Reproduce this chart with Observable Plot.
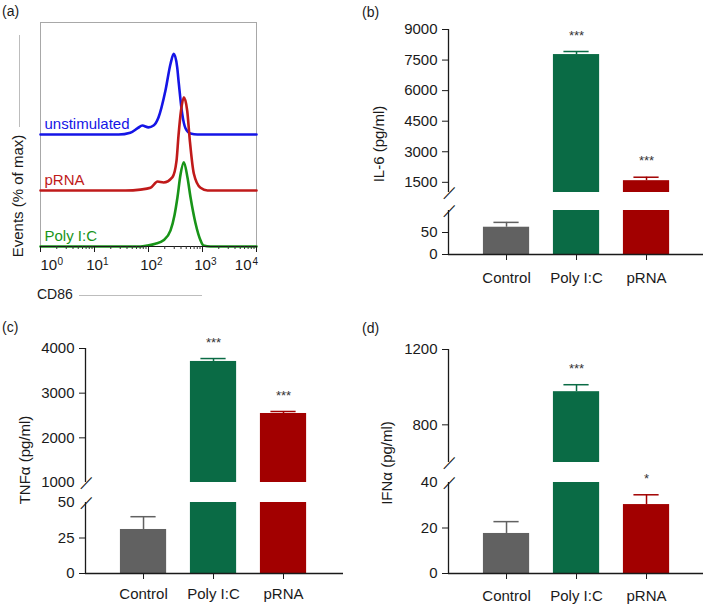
<!DOCTYPE html>
<html>
<head>
<meta charset="utf-8">
<script src="https://cdn.jsdelivr.net/npm/d3@7"></script>
<script src="https://cdn.jsdelivr.net/npm/@observablehq/plot@0.6"></script>
<style>
  body { margin: 0; background: #fff; font-family: "Liberation Sans", Arial, Helvetica, sans-serif; }
  #fig { position: relative; width: 709px; height: 604px; overflow: hidden; background: #fff; }
  #fig svg { overflow: visible; }
  .lab { position: absolute; font-size: 14px; line-height: 16px; color: #1a1a1a; white-space: nowrap; }
  .ylab { position: absolute; font-size: 15px; line-height: 18px; color: #1a1a1a; white-space: nowrap;
          transform: translate(-50%, -50%) rotate(-90deg); }
</style>
</head>
<body>
<div id="fig">
  <div class="lab" style="left:2px;top:3px">(a)</div>
  <div class="lab" style="left:362px;top:4px">(b)</div>
  <div class="lab" style="left:2px;top:319px">(c)</div>
  <div class="lab" style="left:362px;top:320px">(d)</div>
  <div class="lab" style="left:37px;top:286px">CD86</div>
  <div style="position:absolute;left:79px;top:295px;width:123px;border-top:1px solid #bdbdbd"></div>
  <div style="position:absolute;left:19px;top:35px;height:92px;border-left:1px solid #bdbdbd"></div>
  <div class="ylab" style="left:18px;top:196px">Events (% of max)</div>
  <div class="ylab" style="left:379px;top:144px">IL-6 (pg/ml)</div>
  <div class="ylab" style="left:25px;top:460px">TNFα (pg/ml)</div>
  <div class="ylab" style="left:387px;top:463px">IFNα (pg/ml)</div>
</div>
<script>
// ---------- data ----------
// Panel (a): flow cytometry histograms (CD86 vs events, % of max)
const samples = ["unstimulated", "pRNA", "Poly I:C"];
const sampleColors = ["#1515e6", "#c01a1a", "#189418"];
const histOffset = [125, 62.5, 0];

const unstimCD86   = [1, 28, 46, 63, 77, 100, 124, 153, 206, 256, 294, 340, 364, 421, 484, 600, 807, 10000];
const unstimEvents = [0, 0, 2, 7, 10, 8, 10, 19, 49, 79, 90, 75, 57, 23, 7, 1, 0, 0];

const prnaCD86   = [1, 37.5, 71, 109, 147, 190, 278, 330, 359, 400, 451, 521, 582, 690, 918, 1238, 10000];
const prnaEvents = [0, 0, 1, 3, 10, 9, 15, 33, 61, 89, 104, 89, 56, 19, 3, 0, 0];

const polyCD86   = [1, 71, 95, 134, 190, 256, 303, 344, 391, 451, 527, 600, 742, 918, 1044, 1406, 10000];
const polyEvents = [0, 0, 1, 3, 7, 18, 35, 55, 80, 94, 77, 55, 26, 7, 1, 0, 0];

const decades = [1, 10, 100, 1000, 10000];
const decadeExp = ["0", "1", "2", "3", "4"];

// Panels (b)-(d): cytokines
const categories = ["Control", "Poly I:C", "pRNA"];
const barColors = ["#616161", "#0a6b45", "#a20000"];

const il6Mean = [62, 7770, 1580];
const il6Err = [73, 7920, 1750];
const il6Stars = ["", "***", "***"];
const il6UpperTicks = [1500, 3000, 4500, 6000, 7500, 9000];
const il6LowerTicks = [0, 50];

const tnfMean = [31, 3710, 2545];
const tnfErr = [40, 3775, 2590];
const tnfStars = ["", "***", "***"];
const tnfUpperTicks = [2000, 3000, 4000];
const tnfUpperBreakLabels = [1000];
const tnfLowerTicks = [0, 25];
const tnfLowerBreakLabels = [50];

const ifnMean = [17.6, 976, 30.3];
const ifnErr = [22.8, 1013, 34.6];
const ifnStars = ["", "***", "*"];
const ifnUpperTicks = [800, 1200];
const ifnLowerTicks = [0, 20];
const ifnLowerBreakLabels = [40];

// ---------- drawing ----------
const FONT = '"Liberation Sans", Arial, Helvetica, sans-serif';
const INK = "#1a1a1a";
const fig = document.getElementById("fig");
function place(node, left, top) {
  node.style.position = "absolute";
  node.style.left = left + "px";
  node.style.top = top + "px";
  fig.appendChild(node);
}

// Panel (a)
const histX = [unstimCD86, prnaCD86, polyCD86];
const histY = [unstimEvents, prnaEvents, polyEvents];
const histRows = samples.flatMap((s, k) =>
  histX[k].map((x, j) => ({sample: s, cd86: x, events: histY[k][j] + histOffset[k]})));
const minorTicks = d3.range(0, 4).flatMap(k => d3.range(2, 10).map(m => m * 10 ** k));

function decadeLabel(i, anchor, dx, expDx) {
  return [
    Plot.text([decades[i]], {x: d => d, text: () => "10", frameAnchor: "bottom", dy: 23, dx, textAnchor: anchor, fontSize: 15, fill: INK}),
    Plot.text([decades[i]], {x: d => d, text: () => decadeExp[i], frameAnchor: "bottom", dy: 18, dx: expDx, textAnchor: "start", fontSize: 10, fill: INK})
  ];
}

const histPlot = Plot.plot({
  width: 360, height: 300,
  marginLeft: 40, marginRight: 104, marginTop: 22, marginBottom: 54,
  x: {type: "log", domain: [1, 10000], axis: null, label: null},
  y: {domain: [0, 250], axis: null, label: null},
  color: {domain: samples, range: sampleColors},
  style: {fontFamily: FONT, background: "transparent", color: INK},
  marks: [
    Plot.frame({stroke: "#a8a8a8"}),
    Plot.line(histRows, {x: "cd86", y: "events", z: "sample", stroke: "sample", strokeWidth: 2.6, curve: "monotone-x"}),
    Plot.ruleY([0], {stroke: INK}),
    Plot.axisX({ticks: minorTicks, tickSize: 3, tickFormat: () => "", label: null, stroke: "#333"}),
    Plot.axisX({ticks: decades, tickSize: 6, tickFormat: () => "", label: null, stroke: INK}),
    ...decadeLabel(0, "start", 0, 17),
    ...decadeLabel(1, "middle", 0, 8.5),
    ...decadeLabel(2, "middle", 0, 8.5),
    ...decadeLabel(3, "middle", 0, 8.5),
    ...decadeLabel(4, "end", -5, -4),
    Plot.text(samples, {y: (d, i) => histOffset[i] + 12, text: d => d, fill: d => d, frameAnchor: "left", dx: 4, textAnchor: "start", fontSize: 15})
  ]
});
place(histPlot, 0, 0);

// One segment of a broken-axis bar chart
function segmentPlot(p, seg) {
  const idx = categories.map((_, i) => i);
  const [lo, hi] = seg.domain;
  const parts = idx.filter(i => p.mean[i] > lo).map(i => ({i, y1: lo, y2: Math.min(p.mean[i], hi)}));
  const errIdx = idx.filter(i => p.err[i] > lo && p.err[i] <= hi);
  const starIdx = errIdx.filter(i => p.stars[i]);
  const x0 = p.xDomain[0];
  const marks = [
    Plot.ruleX(errIdx, {x: i => i, y1: i => Math.max(p.mean[i], lo), y2: i => p.err[i], stroke: i => categories[i], strokeWidth: 1.5}),
    Plot.ruleY(errIdx, {y: i => p.err[i], x1: i => i - 0.18, x2: i => i + 0.18, stroke: i => categories[i], strokeWidth: 1.5}),
    Plot.rect(parts, {x1: d => d.i - 0.33, x2: d => d.i + 0.33, y1: "y1", y2: "y2", fill: d => categories[d.i]}),
    Plot.ruleX([seg.domain], {x: () => x0, y1: s => s[0], y2: s => s[1], stroke: INK, strokeWidth: 1.3}),
    Plot.text([seg.breakAt], {x: () => x0, y: d => d, text: () => "\u2014", rotate: -47, fontSize: 16, fill: INK}),
    Plot.axisY({ticks: seg.ticks, tickSize: 6, tickPadding: 5, fontSize: 15, tickFormat: d => String(d), label: null, stroke: INK, fill: INK}),
    Plot.text(starIdx, {x: i => i, y: i => p.err[i], text: i => p.stars[i], dy: -16, fontSize: 13, fill: "#333"})
  ];
  if (seg.breakLabels && seg.breakLabels.length) {
    marks.push(Plot.axisY({ticks: seg.breakLabels, tickSize: 0, tickPadding: 11, fontSize: 15, tickFormat: d => String(d), label: null, fill: INK}));
  }
  if (seg.bottom) {
    marks.push(
      Plot.ruleY([0], {stroke: INK, strokeWidth: 1.3}),
      Plot.axisX({ticks: idx, tickFormat: i => categories[i], tickSize: 6, tickPadding: p.catPadding, fontSize: 15, label: null, stroke: INK, fill: INK})
    );
  }
  const svg = Plot.plot({
    width: p.width, height: seg.height,
    marginLeft: p.marginLeft, marginRight: p.marginRight,
    marginTop: seg.marginTop, marginBottom: seg.marginBottom,
    x: {domain: p.xDomain, axis: null, label: null},
    y: {domain: seg.domain, axis: null, label: null},
    color: {domain: categories, range: barColors},
    style: {fontFamily: FONT, background: "transparent", color: INK},
    marks
  });
  place(svg, p.left, seg.top);
}

function barPanel(p) {
  p.segments.forEach(seg => segmentPlot(p, seg));
}

// (b) IL-6
barPanel({
  left: 360, width: 349, marginLeft: 88, marginRight: 6, xDomain: [-0.829, 2.814], catPadding: 12,
  mean: il6Mean, err: il6Err, stars: il6Stars,
  segments: [
    {domain: [1000, 9000], breakAt: 1000, ticks: il6UpperTicks, top: 0, height: 201, marginTop: 29, marginBottom: 9},
    {domain: [0, 100], breakAt: 100, ticks: il6LowerTicks, top: 201, height: 99, marginTop: 9, marginBottom: 46, bottom: true}
  ]
});

// (c) TNFα
barPanel({
  left: 0, width: 360, marginLeft: 85, marginRight: 17, xDomain: [-0.829, 2.857], catPadding: 9,
  mean: tnfMean, err: tnfErr, stars: tnfStars,
  segments: [
    {domain: [1000, 4000], breakAt: 1000, ticks: tnfUpperTicks, breakLabels: tnfUpperBreakLabels, top: 300, height: 192, marginTop: 48, marginBottom: 10},
    {domain: [0, 50], breakAt: 50, ticks: tnfLowerTicks, breakLabels: tnfLowerBreakLabels, top: 492, height: 112, marginTop: 10, marginBottom: 31, bottom: true}
  ]
});

// (d) IFNα
barPanel({
  left: 360, width: 349, marginLeft: 88, marginRight: 6, xDomain: [-0.829, 2.814], catPadding: 11,
  mean: ifnMean, err: ifnErr, stars: ifnStars,
  segments: [
    {domain: [600, 1200], breakAt: 600, ticks: ifnUpperTicks, top: 300, height: 172, marginTop: 49, marginBottom: 10},
    {domain: [0, 40], breakAt: 40, ticks: ifnLowerTicks, breakLabels: ifnLowerBreakLabels, top: 472, height: 132, marginTop: 10, marginBottom: 31, bottom: true}
  ]
});
</script>
</body>
</html>
